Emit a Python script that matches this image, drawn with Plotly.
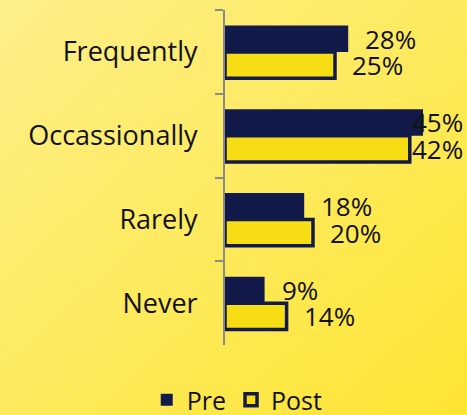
import base64
import plotly.graph_objects as go

# Survey responses: share of respondents per frequency, before and after
categories = ["Frequently", "Occassionally", "Rarely", "Never"]
pre_values = [28, 45, 18, 9]
post_values = [25, 42, 20, 14]
series_names = ["Pre", "Post"]

NAVY = "#121a4a"
GOLD = "#f6dd14"
FONT = "Open Sans"

W, H = 467, 415
PLOT_LEFT, PLOT_TOP, PLOT_BOTTOM = 225, 10, 345
PLOT_W = W - PLOT_LEFT
X_MAX = 55
BARGAP = 0.37

fig = go.Figure()
fig.add_trace(go.Bar(
    name=series_names[0], y=categories, x=pre_values, orientation="h",
    marker=dict(color=NAVY, line=dict(width=0)),
))
fig.add_trace(go.Bar(
    name=series_names[1], y=categories, x=post_values, orientation="h",
    marker=dict(color=GOLD, line=dict(color=NAVY, width=3.5)),
))

# Value labels beside each bar; pulled back inside when they would overflow
px_per_unit = PLOT_W / X_MAX
label_w = 54
half = (1 - BARGAP) / 4
for offset, vals in ((-half, pre_values), (half, post_values)):
    for i, v in enumerate(vals):
        right_edge = v * px_per_unit + 16 + label_w
        if right_edge > PLOT_W - 2:
            ann = dict(x=X_MAX, xanchor="right", xshift=-2)
        else:
            ann = dict(x=v, xanchor="left", xshift=15)
        fig.add_annotation(
            y=i + offset, text=f"{v}%", showarrow=False, yanchor="middle",
            font=dict(family=FONT, size=26, color="#111111"), **ann,
        )

# Soft diagonal yellow gradient behind everything
svg = (
    f'<svg xmlns="http://www.w3.org/2000/svg" width="{W}" height="{H}">'
    '<defs><linearGradient id="g" x1="0" y1="0" x2="1" y2="1">'
    '<stop offset="0" stop-color="#fdef8a"/>'
    '<stop offset="1" stop-color="#fee532"/>'
    '</linearGradient></defs>'
    f'<rect width="{W}" height="{H}" fill="url(#g)"/></svg>'
)
src = "data:image/svg+xml;base64," + base64.b64encode(svg.encode()).decode()
fig.add_layout_image(
    source=src, xref="paper", yref="paper", x=0, y=1, sizex=1, sizey=1,
    xanchor="left", yanchor="top", sizing="stretch", layer="below",
)

fig.update_layout(
    width=W, height=H,
    margin=dict(l=0, r=0, t=0, b=0, autoexpand=False),
    paper_bgcolor="#fdeb6a", plot_bgcolor="rgba(0,0,0,0)",
    barmode="group", bargap=BARGAP, bargroupgap=0,
    font=dict(family=FONT, color="#111111"),
    showlegend=True,
    legend=dict(
        orientation="h", x=0.508, xanchor="center",
        y=1 - 400 / H, yanchor="middle",
        font=dict(family=FONT, size=25, color="#111111"),
        bgcolor="rgba(0,0,0,0)", itemwidth=30, traceorder="normal",
    ),
)
fig.update_xaxes(
    range=[0, X_MAX], visible=False, fixedrange=True,
    domain=[PLOT_LEFT / W, 1], automargin=False,
)
fig.update_yaxes(
    categoryorder="array", categoryarray=categories, autorange="reversed",
    domain=[1 - PLOT_BOTTOM / H, 1 - PLOT_TOP / H], automargin=False,
    showline=True, linecolor="#8a8a8a", linewidth=2,
    ticks="outside", tickson="boundaries", ticklen=8, tickcolor="#8a8a8a",
    tickwidth=2, ticklabelstandoff=20,
    tickfont=dict(family=FONT, size=27, color="#111111"),
    showgrid=False, zeroline=False, fixedrange=True,
)

fig.write_html("out.html")
